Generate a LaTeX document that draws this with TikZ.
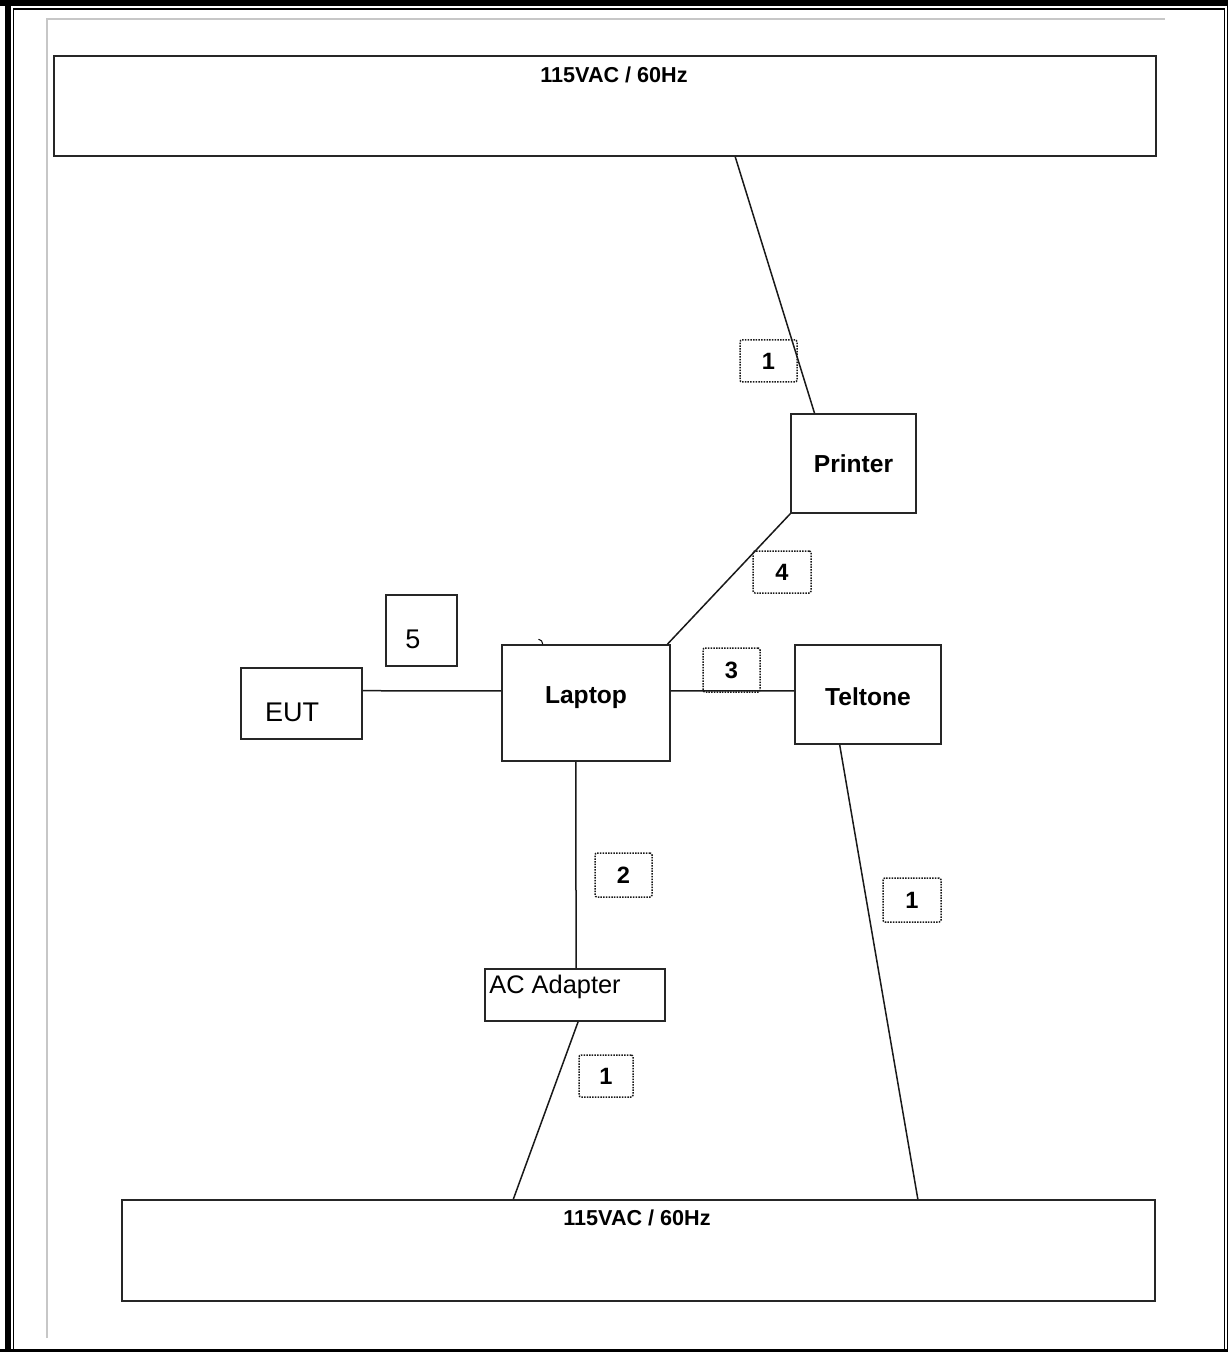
\documentclass[tikz,border=0pt]{standalone}
\usepackage{fontspec}
\setmainfont{Liberation Sans}
\usetikzlibrary{calc}
\begin{document}
\begin{tikzpicture}[x=0.5pt,y=-0.5pt,
  box/.style={draw=black!85, line width=0.8pt, rectangle, inner sep=0pt},
  lbl/.style={draw=black!90, line width=0.75pt, dash pattern=on 0.75pt off 0.6pt, rounded corners=1pt, inner sep=0pt, minimum height=21pt},
  lbltext/.style={font=\fontsize{11.8}{12}\selectfont\bfseries},
  wire/.style={line width=0.75pt, draw=black!90},
  boldlabel/.style={font=\fontsize{12.3}{14}\selectfont\bfseries},
  powerlabel/.style={font=\fontsize{10.8}{12}\selectfont\bfseries},
  plainlabel/.style={font=\fontsize{13.5}{15}\selectfont},
  frame/.style={fill=black, draw=none},
  guide/.style={draw=black!22, line width=0.75pt}
]
\useasboundingbox (0,0) rectangle (1228,1352);
% page frame
\fill[frame] (0,0) rectangle (1228,6);
\fill[frame] (5,0) rectangle (11,1352);
\fill[frame] (1226.5,0) rectangle (1228,1352);
\fill[frame] (0,1348.5) rectangle (1228,1352);
\draw[line width=0.75pt] (13.5,1349) -- (13.5,9) -- (1224.5,9) -- (1224.5,1349);
% grey guides
\draw[guide] (47,1338) -- (47,19) -- (1165,19);

% boxes
\node[box, minimum width=551pt, minimum height=50pt] (top) at (605,106) {};
\node[powerlabel] (toptext) at (614,75) {115VAC / 60Hz};
\node[box, minimum width=516.5pt, minimum height=50.5pt] (bot) at (638.5,1250.5) {};
\node[powerlabel] (bottext) at (637,1218) {115VAC / 60Hz};

\node[box, minimum width=62.5pt, minimum height=49.5pt, boldlabel] (printer) at (853.5,463.5) {Printer};
\node[box, minimum width=84pt, minimum height=58pt] (laptop) at (586,703) {};
\node[boldlabel] (laptoptext) at (586,698) {Laptop};
\node[box, minimum width=73pt, minimum height=49.5pt] (teltone) at (868,694.5) {};
\node[boldlabel] (teltonetext) at (868,697) {Teltone};
\node[box, minimum width=60.5pt, minimum height=35.5pt] (eut) at (301.5,703.5) {};
\node[plainlabel] (euttext) at (292,712) {EUT};
\node[box, minimum width=35.5pt, minimum height=35.5pt] (five) at (421.5,630.5) {};
\node[plainlabel] (fivetext) at (413,639) {5};
\node[box, minimum width=90pt, minimum height=26pt] (ac) at (575,995) {};
\node[font=\fontsize{12.7}{14}\selectfont, anchor=west, inner sep=0pt] (actext) at (489,987) {AC Adapter};

% connectors
\draw[wire] ($(top.south west)!0.618!(top.south east)$) -- ($(printer.north west)!0.192!(printer.north east)$);
\draw[wire] (printer.south west) -- ($(laptop.north west)!0.98!(laptop.north east)$);
\draw[wire] ($(eut.north east)!0.324!(eut.south east)$) -- ($(laptop.north west)!0.397!(laptop.south west)$);
\draw[wire] ($(laptop.north east)!0.397!(laptop.south east)$) -- ($(teltone.north west)!0.465!(teltone.south west)$);
\draw[wire] ($(laptop.south west)!0.44!(laptop.south east)$) -- ($(ac.north west)!0.506!(ac.north east)$);
\draw[wire] ($(ac.south west)!0.517!(ac.south east)$) -- ($(bot.north west)!0.379!(bot.north east)$);
\draw[wire] ($(teltone.south west)!0.308!(teltone.south east)$) -- ($(bot.north west)!0.770!(bot.north east)$);
% small tick on laptop top
\draw[line width=0.5pt] ($(laptop.north west)!0.22!(laptop.north east)+(0,-5)$) to[bend left=40] ($(laptop.north west)!0.245!(laptop.north east)$);

% cable labels
\node[lbl, minimum width=28.5pt, lbltext] (c1a) at (768.5,361) {1};
\node[lbl, minimum width=29pt, lbltext] (c4) at (782,572) {4};
\node[lbl, minimum width=28.5pt, minimum height=22pt, lbltext] (c3) at (731.5,670) {3};
\node[lbl, minimum width=28.5pt, minimum height=22pt, lbltext] (c2) at (623.5,875) {2};
\node[lbl, minimum width=29pt, minimum height=22pt, lbltext] (c1b) at (912,900) {1};
\node[lbl, minimum width=27pt, lbltext] (c1c) at (606,1076) {1};
\end{tikzpicture}
\end{document}
